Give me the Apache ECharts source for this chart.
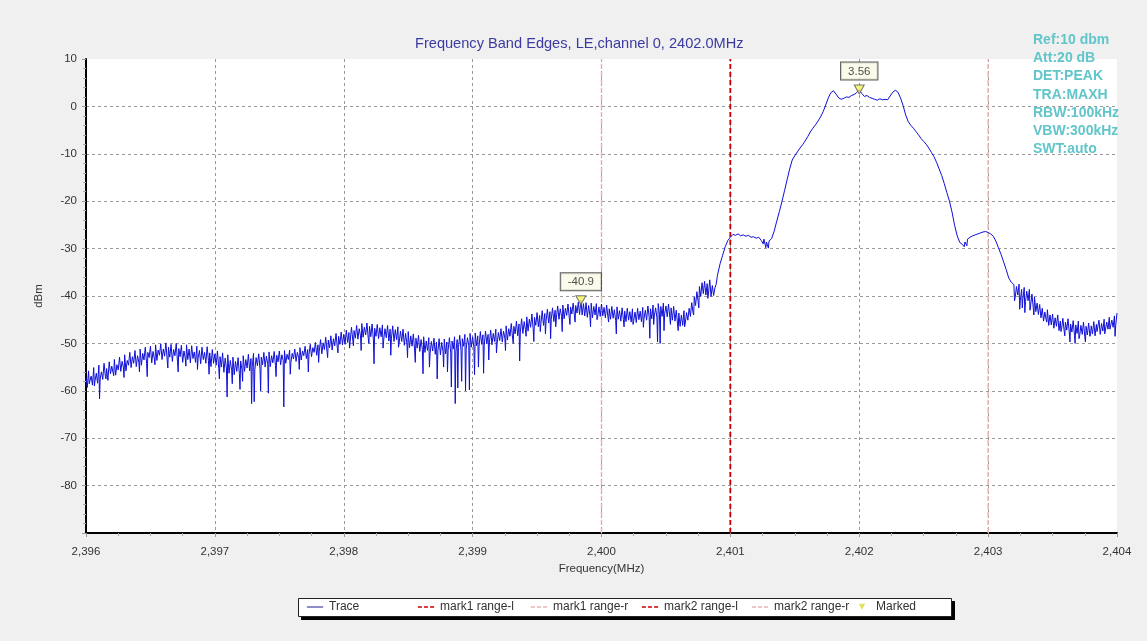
<!DOCTYPE html>
<html>
<head>
<meta charset="utf-8">
<script src="https://cdn.jsdelivr.net/npm/echarts@6/dist/echarts.min.js"></script>
<style>
  html, body { margin: 0; padding: 0; background: #f0f0f0; }
  #main { width: 1147px; height: 641px; }
</style>
</head>
<body>
<div id="main"></div>
<script>
// trace peaks in dBm, one value every 0.02 MHz from 2396.00, one array per MHz
const freqStart = 2396;
const freqStep = 0.02;
const trace2396 = [
  -57.2, -55.8, -56.9, -55.1, -56.3, -54.6, -56.0, -54.2, -55.3, -53.9,
  -54.8, -53.4, -54.5, -52.9, -53.8, -52.4, -53.6, -51.9, -52.8, -51.5,
  -52.6, -51.2, -52.1, -50.8, -51.9, -50.6, -51.7, -50.3, -51.4, -50.1,
  -51.2, -49.9, -50.8, -50.2, -51.3, -50.0, -51.1, -50.4, -51.6, -50.3,
  -51.2, -50.5, -51.8, -50.6, -51.5, -50.8, -51.9, -50.7, -52.0, -51.3
];
const trace2397 = [
  -52.2, -51.6, -52.8, -52.0, -53.1, -52.4, -53.6, -52.9, -53.8, -53.0,
  -53.7, -52.6, -53.4, -52.3, -53.2, -52.1, -53.0, -52.2, -52.9, -51.9,
  -52.7, -51.8, -52.6, -51.7, -52.5, -51.6, -52.4, -51.5, -52.3, -51.4,
  -52.1, -51.2, -51.9, -50.9, -51.6, -50.6, -51.3, -50.2, -50.9, -49.8,
  -50.3, -49.2, -49.9, -48.7, -49.3, -48.4, -49.0, -47.9, -48.5, -47.6
];
const trace2398 = [
  -48.1, -47.2, -47.7, -46.6, -47.3, -46.2, -46.9, -45.8, -46.6, -45.7,
  -46.4, -45.9, -46.8, -46.0, -46.7, -46.1, -46.9, -46.2, -47.0, -46.3,
  -47.1, -46.5, -47.4, -47.0, -47.9, -47.5, -48.4, -48.0, -48.9, -48.3,
  -49.2, -48.6, -49.5, -48.8, -49.6, -48.9, -49.7, -49.0, -49.8, -49.1,
  -49.7, -48.8, -49.5, -48.6, -49.2, -48.3, -49.0, -48.1, -48.8, -47.9
];
const trace2399 = [
  -48.6, -47.8, -48.4, -47.5, -48.2, -47.4, -48.1, -47.2, -47.9, -47.0,
  -47.7, -46.9, -47.4, -46.3, -46.9, -45.8, -46.4, -45.3, -45.9, -44.8,
  -45.4, -44.4, -44.9, -43.8, -44.5, -43.5, -44.1, -43.1, -43.7, -42.8,
  -43.3, -42.5, -43.0, -42.1, -42.7, -41.9, -42.6, -41.7, -42.3, -41.5,
  -42.0, -41.3, -40.9, -41.6, -41.4, -42.0, -41.5, -42.2, -41.6, -42.3
];
const trace2400 = [
  -41.7, -42.4, -41.9, -42.7, -42.2, -42.9, -42.3, -43.1, -42.5, -43.2,
  -42.6, -43.3, -42.7, -43.4, -42.6, -43.2, -42.4, -43.0, -42.1, -42.7,
  -41.9, -42.5, -41.6, -42.2, -41.5, -42.1, -41.7, -42.5, -42.2, -43.0,
  -43.6, -44.0, -43.1, -43.5, -42.6, -41.4, -40.2, -39.1, -38.0, -37.2,
  -36.9, -37.4, -36.6, -37.8, -38.3, -35.6, -33.2, -31.4, -29.6, -28.3
];
const trace2401 = [
  -27.6, -27.0, -27.2, -26.9, -27.3, -27.1, -27.4, -27.2, -27.6, -27.5,
  -27.8, -27.6, -28.3, -28.0, -28.6, -28.4, -27.9, -26.3, -24.2, -22.2,
  -20.1, -17.8, -15.5, -13.2, -11.3, -10.4, -9.6, -8.8, -8.1, -7.3,
  -6.4, -5.4, -4.6, -3.9, -3.1, -2.2, -1.1, 0.3, 1.8, 2.9,
  3.3, 2.6, 1.8, 1.5, 1.7, 2.0, 1.9, 2.3, 2.5, 2.9
];
const trace2402 = [
  3.56, 2.7, 2.1, 2.3, 1.9, 1.7, 1.5, 1.3, 1.6, 1.4,
  1.5, 1.4, 2.2, 3.0, 3.4, 3.0, 1.8, 0.2, -1.8, -3.2,
  -4.0, -4.6, -5.3, -6.0, -6.8, -7.4, -8.0, -8.8, -9.7, -10.6,
  -11.8, -13.2, -14.6, -16.3, -18.2, -20.0, -22.3, -25.1, -27.3, -28.7,
  -29.1, -28.6, -28.0, -27.6, -27.3, -27.1, -26.9, -26.7, -26.5, -26.4
];
const trace2403 = [
  -26.6, -26.9, -27.4, -28.4, -29.8, -31.2, -32.8, -34.4, -36.2, -37.1,
  -37.6, -38.0, -37.5, -38.6, -38.2, -39.0, -38.6, -39.6, -40.2, -41.5,
  -41.8, -42.6, -43.4, -42.9, -44.0, -43.8, -44.6, -44.0, -45.3, -44.7,
  -45.5, -44.8, -45.9, -45.2, -46.1, -45.3, -46.2, -45.5, -46.4, -45.7,
  -46.3, -45.4, -46.0, -45.1, -45.8, -44.9, -45.5, -44.5, -45.1, -44.2
];
const traceLast = [-43.6];

// bottom of the noise band, between the peaks above: 2396.01 .. 2400.89, every 0.02 MHz
const troughStartA = 2396.01;
const trough2396 = [
  -59.3, -58.6, -58.8, -57.9, -58.4, -57.5, -57.6, -56.9, -57.8, -56.4,
  -56.2, -56.7, -55.6, -55.9, -55.0, -55.8, -54.6, -55.1, -54.2, -54.9,
  -54.0, -54.6, -53.5, -54.2, -53.0, -54.1, -53.2, -53.6, -52.5, -53.4,
  -52.7, -53.5, -52.9, -53.8, -52.6, -53.9, -52.8, -54.0, -53.1, -53.4,
  -54.1, -53.2, -54.0, -53.1, -54.3, -53.4, -54.2, -53.6, -54.9, -54.2
];
const trough2397 = [
  -54.6, -55.3, -55.0, -56.1, -55.4, -56.3, -55.7, -56.6, -55.9, -56.4,
  -55.5, -55.9, -55.2, -55.8, -54.9, -55.6, -54.7, -55.3, -54.5, -55.0,
  -54.3, -54.9, -54.1, -54.6, -53.9, -54.5, -53.6, -54.2, -53.4, -54.0,
  -53.3, -53.8, -53.0, -53.5, -52.6, -53.2, -52.4, -52.8, -51.9, -52.5,
  -51.6, -52.2, -51.3, -51.7, -50.9, -51.4, -50.5, -50.9, -50.2, -50.3
];
const trough2398 = [
  -50.2, -49.8, -49.6, -49.3, -48.9, -49.1, -48.4, -48.7, -48.2, -48.9,
  -48.6, -49.2, -48.5, -49.0, -48.6, -49.3, -48.8, -49.5, -48.9, -49.6,
  -49.2, -49.9, -49.6, -50.4, -50.1, -50.9, -50.6, -51.4, -51.0, -51.7,
  -51.3, -51.9, -51.5, -52.1, -51.6, -52.3, -51.8, -52.4, -51.7, -52.2,
  -51.4, -52.0, -51.2, -51.8, -50.9, -51.5, -50.6, -51.2, -50.4, -50.8
];
const trough2399 = [
  -50.9, -50.5, -50.7, -50.2, -50.4, -50.1, -49.9, -50.3, -49.6, -50.1,
  -49.4, -49.7, -48.9, -49.3, -48.5, -48.9, -48.0, -48.4, -47.6, -47.9,
  -47.1, -47.4, -46.6, -47.0, -46.2, -46.5, -45.8, -46.2, -45.3, -45.7,
  -44.9, -45.4, -44.6, -44.9, -44.3, -44.8, -44.1, -44.6, -43.8, -44.2,
  -43.6, -43.9, -44.0, -44.2, -44.5, -44.1, -44.6, -44.0, -44.5, -44.3
];
const trough2400 = [
  -44.2, -44.6, -44.5, -44.9, -44.7, -45.2, -44.9, -45.3, -45.0, -45.4,
  -45.1, -45.5, -45.2, -45.6, -45.0, -45.4, -44.8, -45.1, -44.5, -44.8,
  -44.2, -44.6, -43.9, -44.3, -43.8, -44.4, -44.5, -45.1, -45.3, -45.9,
  -46.4, -46.2, -45.7, -45.1, -44.3, -43.5, -42.0, -41.2, -40.1, -39.5,
  -39.8, -39.6, -40.1, -39.9, -37.5
];
// bottom of the noise band 2403.21 .. 2403.99
const troughStartB = 2403.21;
const trough2403 = [
  -40.3, -39.8, -40.9, -40.6, -41.2, -41.0, -41.9, -42.4, -43.3, -43.9,
  -44.6, -45.3, -45.0, -46.2, -46.1, -46.8, -46.4, -47.3, -47.0, -47.4,
  -47.2, -47.8, -47.6, -48.3, -47.9, -48.4, -48.1, -48.6, -48.2, -48.5,
  -48.0, -48.4, -47.6, -48.1, -47.4, -47.8, -47.0, -47.3, -46.6, -46.2
];

// narrow downward spikes [MHz, dBm]
const dips = [
  [2396.025, -58.5], [2396.065, -59.0], [2396.105, -61.7], [2396.155, -57.5], [2396.215, -56.8],
  [2396.295, -57.2], [2396.355, -55.5], [2396.415, -56.0], [2396.475, -57.0], [2396.535, -54.5],
  [2396.635, -55.2], [2396.715, -56.0], [2396.775, -54.8], [2396.865, -55.5], [2396.955, -56.5],
  [2397.035, -57.5], [2397.095, -61.3], [2397.135, -58.5], [2397.195, -59.7], [2397.215, -58.0],
  [2397.285, -62.7], [2397.305, -62.3], [2397.355, -60.0], [2397.415, -60.5], [2397.475, -57.0],
  [2397.535, -63.4], [2397.585, -56.5], [2397.655, -55.5], [2397.725, -56.0], [2397.805, -54.0],
  [2397.875, -53.0], [2397.955, -52.0], [2398.045, -51.0], [2398.075, -50.5], [2398.135, -51.5],
  [2398.195, -50.0], [2398.235, -54.3], [2398.305, -51.0], [2398.365, -52.5], [2398.425, -50.8],
  [2398.495, -53.0], [2398.555, -54.0], [2398.615, -56.4], [2398.665, -55.0], [2398.725, -57.5],
  [2398.775, -55.0], [2398.805, -56.0], [2398.835, -59.2], [2398.865, -62.7], [2398.885, -59.4],
  [2398.915, -58.0], [2398.945, -60.0], [2398.975, -59.8], [2399.015, -56.6], [2399.045, -55.0],
  [2399.085, -56.3], [2399.125, -53.5], [2399.185, -52.0], [2399.255, -51.5], [2399.315, -50.0],
  [2399.365, -53.7], [2399.415, -48.5], [2399.475, -49.6], [2399.525, -47.5], [2399.565, -48.0],
  [2399.605, -49.0], [2399.645, -46.5], [2399.695, -47.5], [2399.755, -46.0], [2399.795, -45.5],
  [2399.915, -46.5], [2399.965, -45.0], [2400.055, -45.5], [2400.115, -48.0], [2400.175, -46.5],
  [2400.245, -46.0], [2400.325, -46.6], [2400.375, -48.9], [2400.405, -46.0], [2400.435, -49.7],
  [2400.455, -50.0], [2400.485, -47.3], [2400.535, -46.0], [2400.595, -47.3], [2400.645, -46.5],
  [2400.715, -44.0], [2400.755, -42.5], [2400.825, -40.5], [2401.255, -29.0], [2401.275, -29.8],
  [2401.295, -29.9], [2402.815, -29.6], [2402.835, -29.4], [2403.205, -41.0], [2403.245, -42.8],
  [2403.265, -42.5], [2403.285, -43.5], [2403.325, -43.0], [2403.355, -44.0], [2403.395, -42.8],
  [2403.455, -45.5], [2403.495, -46.0], [2403.535, -46.3], [2403.565, -47.5], [2403.595, -48.4],
  [2403.635, -49.7], [2403.675, -50.0], [2403.705, -49.0], [2403.755, -49.7], [2403.795, -48.0],
  [2403.845, -47.5], [2403.905, -48.0], [2403.945, -47.0], [2403.985, -48.5]
];

// markers
const markedFreq = [2399.84, 2402.0];
const markedLevel = [-40.9, 3.56];

// range lines
const rangeNames = ['mark1 range-l', 'mark1 range-r', 'mark2 range-l', 'mark2 range-r'];
const rangeFreq = [2401, 2400, 2401, 2403];
const rangeColors = ['#cc0000', '#e9b4b4', '#cc0000', '#e9b4b4'];

const xTicks = [2396, 2404, 1];
const yTicks = [-90, 10, 10];

const infoLines = ['Ref:10 dbm', 'Att:20 dB', 'DET:PEAK', 'TRA:MAXH', 'RBW:100kHz', 'VBW:300kHz', 'SWT:auto'];

const peaks = [].concat(trace2396, trace2397, trace2398, trace2399, trace2400,
  trace2401, trace2402, trace2403, traceLast);
const troughsA = [].concat(trough2396, trough2397, trough2398, trough2399, trough2400);
const toPts = (arr, f0) => arr.map((v, i) => [+(f0 + i * freqStep).toFixed(3), v]);
const allData = [].concat(
  toPts(peaks, freqStart), toPts(troughsA, troughStartA), toPts(trough2403, troughStartB), dips
).sort((a, b) => a[0] - b[0]);

const font = 'Liberation Sans';

// legend icons (a 40x20 box, with two tiny corner marks so the box keeps its size)
const box = 'M0,0h0.1v0.1h-0.1zM39.9,19.9h0.1v0.1h-0.1z';
const iconSolid = 'path://' + box + 'M2,9h36v2h-36z';
const iconDash = 'path://' + box + 'M2,8.5h9v3h-9zM15.5,8.5h9v3h-9zM29,8.5h9v3h-9z';
const iconTri = 'path://' + box + 'M13,3h14l-7,13z';

const legendNames = ['Trace'].concat(rangeNames, ['Marked']);
const legendIcons = [iconSolid, iconDash, iconDash, iconDash, iconDash, iconTri];
const legendColors = ['#1a1a90'].concat(rangeColors, ['#d8d830']);
const legendLeft = [306, 417, 530, 641, 751, 853];

const legends = legendNames.map((name, i) => ({
  left: legendLeft[i],
  top: 601,
  padding: 0,
  itemWidth: 18,
  itemHeight: 9,
  selectedMode: false,
  textStyle: { fontSize: 12, color: '#333', fontFamily: font },
  data: [{ name: name, icon: legendIcons[i], itemStyle: { color: legendColors[i], borderWidth: 0 } }]
}));

const rangeSeries = rangeNames.map((name, i) => ({
  name: name,
  type: 'line',
  symbol: 'none',
  silent: true,
  z: 1,
  color: rangeColors[i],
  lineStyle: { color: rangeColors[i], width: 1.5, type: [5, 3] },
  data: [[rangeFreq[i], yTicks[0]], [rangeFreq[i], yTicks[1]]]
}));

const chart = echarts.init(document.getElementById('main'));
chart.setOption({
  animation: false,
  backgroundColor: '#f0f0f0',
  title: {
    text: 'Frequency Band Edges, LE,channel 0, 2402.0MHz',
    left: 410,
    top: 31,
    textStyle: { color: '#3a3aa2', fontSize: 14.6, fontWeight: 'normal', fontFamily: font }
  },
  graphic: [{
    type: 'rect',
    z: 1,
    shape: { x: 301, y: 601, width: 654, height: 19 },
    style: { fill: '#000' }
  }, {
    type: 'rect',
    z: 2,
    shape: { x: 298.5, y: 598.5, width: 653, height: 18 },
    style: { fill: '#fff', stroke: '#222', lineWidth: 1 }
  }, {
    type: 'text',
    left: 1033,
    top: 31,
    z: 100,
    style: {
      text: infoLines.join('\n'),
      fill: '#62c5ca',
      font: 'bold 14px "Liberation Sans"',
      lineHeight: 18.2
    }
  }],
  legend: legends,
  grid: {
    left: 86, right: 30, top: 59, bottom: 108,
    show: true, backgroundColor: '#fff', borderWidth: 0
  },
  xAxis: {
    type: 'value',
    min: xTicks[0], max: xTicks[1], interval: xTicks[2],
    name: 'Frequency(MHz)',
    nameLocation: 'middle',
    nameGap: 28,
    nameTextStyle: { fontSize: 11.5, color: '#333', fontFamily: font },
    axisLine: { onZero: false, lineStyle: { color: '#000', width: 2 } },
    axisTick: { lineStyle: { color: '#999' }, length: 4 },
    minorTick: { show: true, splitNumber: 4, length: 3, lineStyle: { color: '#aaa' } },
    axisLabel: {
      fontSize: 11.5, color: '#333', fontFamily: font, margin: 13,
      formatter: v => String(v).replace(/(\d)(\d{3})$/, '$1,$2')
    },
    splitLine: { show: true, showMinLine: false, showMaxLine: false,
      lineStyle: { color: '#9a9a9a', type: [3, 3] } }
  },
  yAxis: {
    type: 'value',
    min: yTicks[0], max: yTicks[1], interval: yTicks[2],
    name: 'dBm',
    nameLocation: 'middle',
    nameGap: 41,
    nameTextStyle: { fontSize: 11.5, color: '#333', fontFamily: font },
    axisLine: { show: true, onZero: false, lineStyle: { color: '#000', width: 2 } },
    axisTick: { show: true, lineStyle: { color: '#999' }, length: 4 },
    minorTick: { show: true, splitNumber: 5, length: 3, lineStyle: { color: '#aaa' } },
    axisLabel: {
      fontSize: 11.5, color: '#333', fontFamily: font, margin: 9,
      formatter: v => (v === yTicks[0] ? '' : String(v))
    },
    splitLine: { show: true, showMinLine: false, showMaxLine: false,
      lineStyle: { color: '#9a9a9a', type: [3, 3] } }
  },
  series: [
    {
      name: 'Trace',
      type: 'line',
      symbol: 'none',
      sampling: false,
      z: 3,
      color: '#1a1a90',
      lineStyle: { color: '#0e0ed8', width: 1 },
      data: allData
    }
  ].concat(rangeSeries, [{
    name: 'Marked',
    type: 'scatter',
    symbol: 'triangle',
    symbolRotate: 180,
    symbolSize: [10, 9],
    z: 5,
    itemStyle: { color: '#f2f25a', borderColor: '#555', borderWidth: 1 },
    label: {
      show: true,
      position: 'top',
      distance: 5,
      formatter: p => String(p.value[1]),
      backgroundColor: '#fafae6',
      borderColor: '#333',
      borderWidth: 1,
      padding: [3, 7, 2, 7],
      fontSize: 11.5,
      color: '#222',
      fontFamily: font
    },
    data: markedFreq.map((f, i) => [f, markedLevel[i]])
  }])
});
</script>
</body>
</html>
